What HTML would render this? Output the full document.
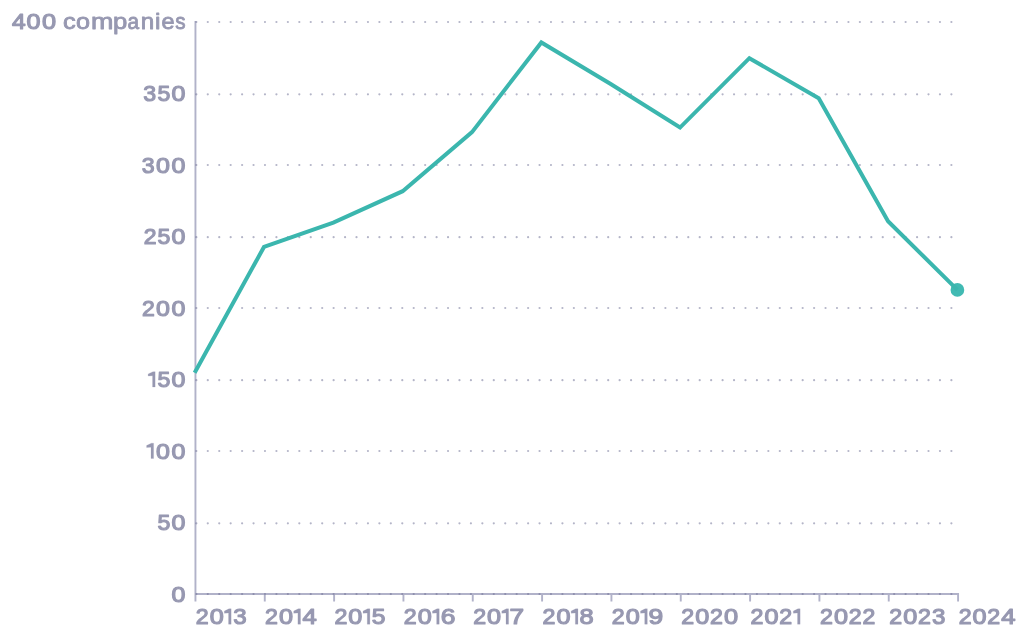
<!DOCTYPE html><html><head><meta charset="utf-8"><title>Chart</title><style>
html,body{margin:0;padding:0;background:#fff;overflow:hidden}svg{display:block;will-change:transform}
text{font-family:"Liberation Sans",sans-serif;font-size:22.5px;fill:#9798b1;stroke:#9798b1;stroke-width:1.2;stroke-linejoin:round}
.one{fill:#9798b1;stroke:#9798b1;stroke-width:0.2;stroke-linejoin:round}
</style></head><body><svg width="1024" height="639" viewBox="0 0 1024 639">
<rect width="1024" height="639" fill="#fff"/>
<path d="M195.45 601.6V21M194.5 594H959.03M264.78 594V601.6M334.11 594V601.6M403.44 594V601.6M472.77 594V601.6M542.10 594V601.6M611.43 594V601.6M680.76 594V601.6M750.09 594V601.6M819.42 594V601.6M888.75 594V601.6M958.08 594V601.6" stroke="rgba(118,120,160,0.57)" stroke-width="1.9" fill="none"/>
<g stroke="rgba(105,107,145,0.5)" stroke-width="2.2" stroke-linecap="round" stroke-dasharray="0 11.44">
<line x1="196.35" y1="594" x2="952.5" y2="594"/>
<line x1="196.35" y1="523.35" x2="952.5" y2="523.35"/>
<line x1="196.35" y1="451" x2="952.5" y2="451"/>
<line x1="196.35" y1="380.2" x2="952.5" y2="380.2"/>
<line x1="196.35" y1="308" x2="952.5" y2="308"/>
<line x1="196.35" y1="237.2" x2="952.5" y2="237.2"/>
<line x1="196.35" y1="165" x2="952.5" y2="165"/>
<line x1="196.35" y1="94.35" x2="952.5" y2="94.35"/>
<line x1="196.35" y1="22" x2="952.5" y2="22"/>
</g>
<text transform="translate(196.25 624.40) scale(1.0305 1)" x="-0.532">2</text>
<text transform="translate(209.95 624.40) scale(1.1208 1)" x="-0.279">0</text>
<path class="one" d="M228.55 624.20 h2.60 v-15.4 h-2.2 L224.35 611.10 v2.1 L228.55 612.90 Z"/>
<text transform="translate(233.45 624.40) scale(1.0701 1)" x="-0.257">3</text>
<text transform="translate(265.61 624.40) scale(1.0305 1)" x="-0.532">2</text>
<text transform="translate(279.31 624.40) scale(1.1208 1)" x="-0.279">0</text>
<path class="one" d="M297.91 624.20 h2.60 v-15.4 h-2.2 L293.71 611.10 v2.1 L297.91 612.90 Z"/>
<text transform="translate(302.51 624.40) scale(1.1405 1)" x="0.084">4</text>
<text transform="translate(334.97 624.40) scale(1.0305 1)" x="-0.532">2</text>
<text transform="translate(348.67 624.40) scale(1.1208 1)" x="-0.279">0</text>
<path class="one" d="M367.27 624.20 h2.60 v-15.4 h-2.2 L363.07 611.10 v2.1 L367.27 612.90 Z"/>
<text transform="translate(372.07 624.40) scale(1.0954 1)" x="-0.301">5</text>
<text transform="translate(404.33 624.40) scale(1.0305 1)" x="-0.532">2</text>
<text transform="translate(418.03 624.40) scale(1.1208 1)" x="-0.279">0</text>
<path class="one" d="M436.63 624.20 h2.60 v-15.4 h-2.2 L432.43 611.10 v2.1 L436.63 612.90 Z"/>
<text transform="translate(441.33 624.40) scale(1.1742 1)" x="-0.543">6</text>
<text transform="translate(473.69 624.40) scale(1.0305 1)" x="-0.532">2</text>
<text transform="translate(487.39 624.40) scale(1.1208 1)" x="-0.279">0</text>
<path class="one" d="M505.99 624.20 h2.60 v-15.4 h-2.2 L501.79 611.10 v2.1 L505.99 612.90 Z"/>
<text transform="translate(510.09 624.40) scale(1.1638 1)" x="-0.554">7</text>
<text transform="translate(543.05 624.40) scale(1.0305 1)" x="-0.532">2</text>
<text transform="translate(556.75 624.40) scale(1.1208 1)" x="-0.279">0</text>
<path class="one" d="M575.35 624.20 h2.60 v-15.4 h-2.2 L571.15 611.10 v2.1 L575.35 612.90 Z"/>
<text transform="translate(579.85 624.40) scale(1.1312 1)" x="-0.378">8</text>
<text transform="translate(612.41 624.40) scale(1.0305 1)" x="-0.532">2</text>
<text transform="translate(626.11 624.40) scale(1.1208 1)" x="-0.279">0</text>
<path class="one" d="M644.71 624.20 h2.60 v-15.4 h-2.2 L640.51 611.10 v2.1 L644.71 612.90 Z"/>
<text transform="translate(649.11 624.40) scale(1.1731 1)" x="-0.455">9</text>
<text transform="translate(681.77 624.40) scale(1.0305 1)" x="-0.532">2</text>
<text transform="translate(695.47 624.40) scale(1.1208 1)" x="-0.279">0</text>
<text transform="translate(710.47 624.40) scale(1.0305 1)" x="-0.532">2</text>
<text transform="translate(724.37 624.40) scale(1.1292 1)" x="-0.279">0</text>
<text transform="translate(751.13 624.40) scale(1.0305 1)" x="-0.532">2</text>
<text transform="translate(764.83 624.40) scale(1.1208 1)" x="-0.279">0</text>
<text transform="translate(779.83 624.40) scale(1.0305 1)" x="-0.532">2</text>
<path class="one" d="M797.53 624.20 h2.60 v-15.4 h-2.2 L793.33 611.10 v2.1 L797.53 612.90 Z"/>
<text transform="translate(820.49 624.40) scale(1.0305 1)" x="-0.532">2</text>
<text transform="translate(834.19 624.40) scale(1.1208 1)" x="-0.279">0</text>
<text transform="translate(849.19 624.40) scale(1.0305 1)" x="-0.532">2</text>
<text transform="translate(862.99 624.40) scale(1.0218 1)" x="-0.532">2</text>
<text transform="translate(889.85 624.40) scale(1.0305 1)" x="-0.532">2</text>
<text transform="translate(903.55 624.40) scale(1.1208 1)" x="-0.279">0</text>
<text transform="translate(918.55 624.40) scale(1.0305 1)" x="-0.532">2</text>
<text transform="translate(932.15 624.40) scale(1.0701 1)" x="-0.257">3</text>
<text transform="translate(959.21 624.40) scale(1.0305 1)" x="-0.532">2</text>
<text transform="translate(972.91 624.40) scale(1.1208 1)" x="-0.279">0</text>
<text transform="translate(987.91 624.40) scale(1.0305 1)" x="-0.532">2</text>
<text transform="translate(1001.11 624.40) scale(1.1405 1)" x="0.084">4</text>
<text transform="translate(171.80 601.75) scale(1.1124 1)" x="-0.279">0</text>
<text transform="translate(157.85 530.25) scale(1.0280 1)" x="-0.301">5</text>
<text transform="translate(171.80 530.25) scale(1.1124 1)" x="-0.279">0</text>
<path class="one" d="M151.00 458.55 h2.60 v-15.4 h-2.2 L146.60 445.45 v2.1 L151.00 447.25 Z"/>
<text transform="translate(156.30 458.75) scale(1.1124 1)" x="-0.279">0</text>
<text transform="translate(171.80 458.75) scale(1.1124 1)" x="-0.279">0</text>
<path class="one" d="M152.55 387.05 h2.60 v-15.4 h-2.2 L148.15 373.95 v2.1 L152.55 375.75 Z"/>
<text transform="translate(157.85 387.25) scale(1.0280 1)" x="-0.301">5</text>
<text transform="translate(171.80 387.25) scale(1.1124 1)" x="-0.279">0</text>
<text transform="translate(142.65 315.75) scale(1.0218 1)" x="-0.532">2</text>
<text transform="translate(156.30 315.75) scale(1.1124 1)" x="-0.279">0</text>
<text transform="translate(171.80 315.75) scale(1.1124 1)" x="-0.279">0</text>
<text transform="translate(144.20 244.25) scale(1.0218 1)" x="-0.532">2</text>
<text transform="translate(157.85 244.25) scale(1.0280 1)" x="-0.301">5</text>
<text transform="translate(171.80 244.25) scale(1.1124 1)" x="-0.279">0</text>
<text transform="translate(142.05 172.75) scale(1.0280 1)" x="-0.257">3</text>
<text transform="translate(156.30 172.75) scale(1.1124 1)" x="-0.279">0</text>
<text transform="translate(171.80 172.75) scale(1.1124 1)" x="-0.279">0</text>
<text transform="translate(143.60 101.25) scale(1.0280 1)" x="-0.257">3</text>
<text transform="translate(157.85 101.25) scale(1.0280 1)" x="-0.301">5</text>
<text transform="translate(171.80 101.25) scale(1.1124 1)" x="-0.279">0</text>
<text transform="translate(11.90 29.00) scale(1.0927 1)" x="0.084">4</text>
<text transform="translate(26.85 29.00) scale(1.1166 1)" x="-0.279">0</text>
<text transform="translate(42.40 29.00) scale(1.1250 1)" x="-0.279">0</text>
<text transform="translate(63.50 29.00) scale(1.1279 1)" x="-0.531" style="stroke-width:0.85">c</text>
<text transform="translate(76.65 29.00) scale(1.1199 1)" x="-0.520" style="stroke-width:0.85">o</text>
<text transform="translate(92.15 29.00) scale(1.1947 1)" x="-1.069" style="stroke-width:0.85">m</text>
<text transform="translate(114.10 29.00) scale(1.1396 1)" x="-1.025" style="stroke-width:0.85">p</text>
<text transform="translate(128.10 29.00) scale(0.9269 1)" x="-0.531" style="stroke-width:0.85">a</text>
<text transform="translate(141.80 29.00) scale(1.0761 1)" x="-1.069" style="stroke-width:0.85">n</text>
<text transform="translate(156.10 29.00) scale(1.0964 1)" x="-1.080" style="stroke-width:0.85">i</text>
<text transform="translate(162.10 29.00) scale(1.0431 1)" x="-0.531" style="stroke-width:0.85">e</text>
<text transform="translate(175.40 29.00) scale(0.9193 1)" x="-0.201" style="stroke-width:0.85">s</text>
<circle cx="957.39" cy="289.96" r="6.85" fill="#41bab3"/>
<path d="M194.65 372.80 L263.99 246.96 L333.33 222.65 L402.67 191.19 L472.01 132.13 L541.35 42.47 L610.69 83.94 L680.03 127.56 L749.37 58.20 L818.71 98.24 L888.05 221.22 L957.39 289.86" fill="none" stroke="#3bb6ae" stroke-width="4" stroke-linejoin="miter" stroke-miterlimit="10"/>
</svg></body></html>
